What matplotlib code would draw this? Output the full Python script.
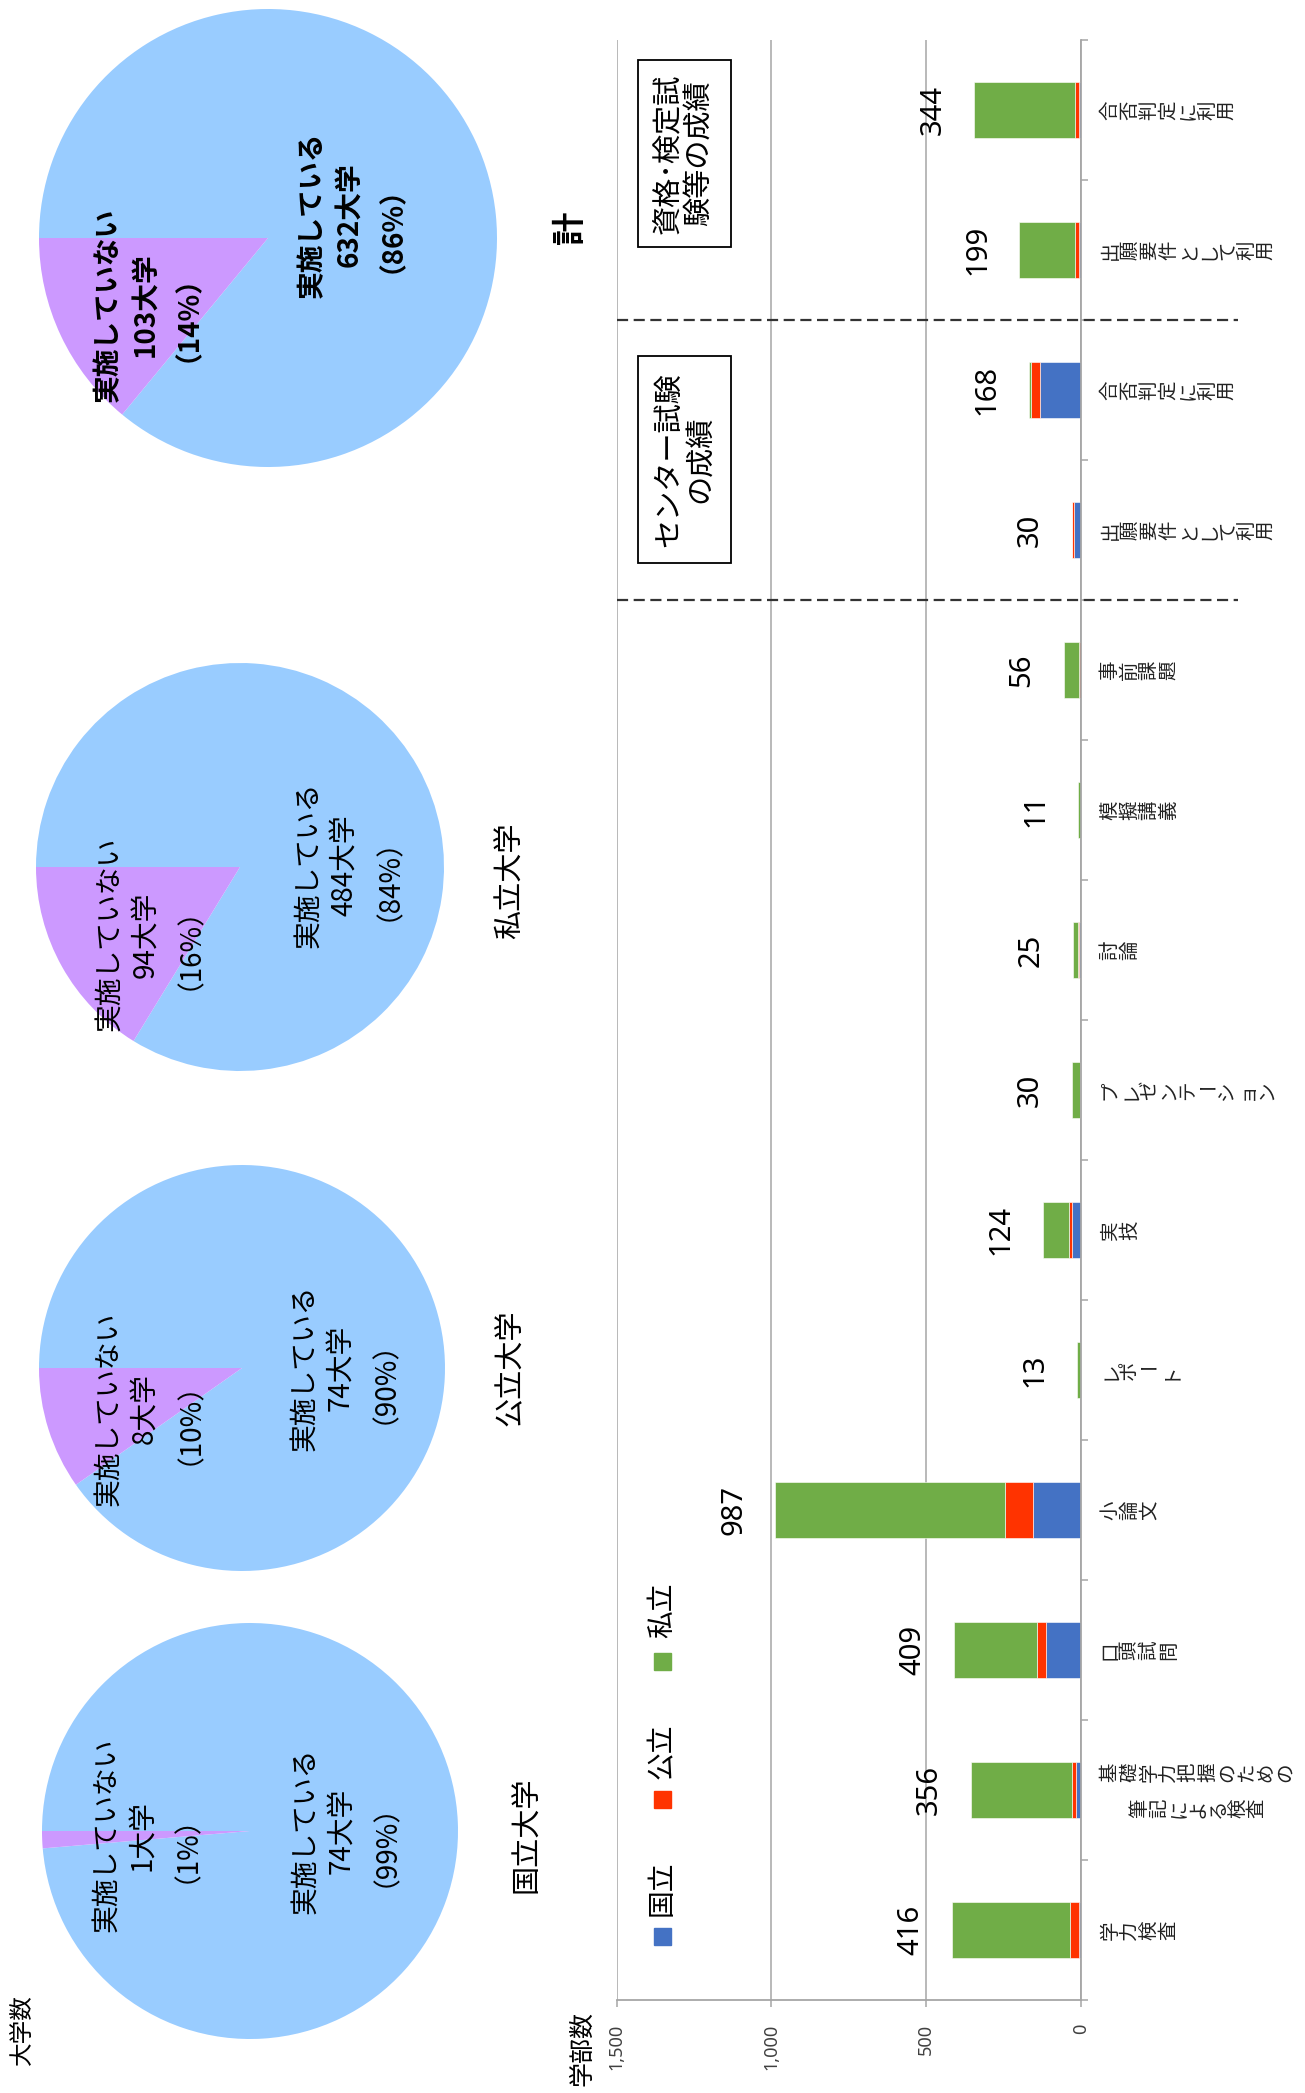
import matplotlib
matplotlib.use("Agg")
import matplotlib.pyplot as plt
from matplotlib.patches import Rectangle
from matplotlib.transforms import blended_transform_factory

plt.rcParams['font.family'] = ['Noto Sans CJK JP', 'DejaVu Sans']

# ---- data ----
categories = ['学力検査', '基礎学力把握のための\n筆記による検査', '口頭試問', '小論文',
              'レポート', '実技', 'プレゼンテーション', '討論', '模擬講義', '事前課題',
              '出願要件として利用', '合否判定に利用', '出願要件として利用', '合否判定に利用']
kokuritsu = [8, 15, 113, 155, 0, 30, 1, 5, 0, 0, 22, 132, 7, 7]
kouritsu = [28, 14, 28, 89, 1, 8, 3, 4, 0, 5, 8, 28, 13, 13]
shiritsu = [380, 327, 268, 743, 12, 86, 26, 16, 11, 51, 0, 8, 179, 324]
series_names = ['国立', '公立', '私立']
series_colors = ['#4472C4', '#FF3300', '#70AD47']
value_ticks = [0, 500, 1000, 1500]

pie_titles = ['国立大学', '公立大学', '私立大学', '計']
implemented = [74, 74, 484, 632]
not_implemented = [1, 8, 94, 103]
implemented_pct = [99, 90, 84, 86]
not_implemented_pct = [1, 10, 16, 14]

W, H = 1305, 2093
fig = plt.figure(figsize=(W / 100, H / 100), dpi=100)

# ---- bar chart (drawn rotated: value axis runs right-to-left) ----
x_left, x_right, y_top, y_bot = 616.5, 1081, 40, 2000
ax = fig.add_axes([x_left / W, 1 - y_bot / H, (x_right - x_left) / W, (y_bot - y_top) / H])
n = len(categories)
ypos = list(range(n))
left = [0] * n
for vals, name, col in zip([kokuritsu, kouritsu, shiritsu], series_names, series_colors):
    ax.barh(ypos, vals, left=left, height=0.4, color=col, edgecolor='white', linewidth=0.4, label=name)
    left = [a + b for a, b in zip(left, vals)]
totals = left
for i, t in enumerate(totals):
    ax.annotate(str(t), xy=(t, i), xytext=(-30, 0), textcoords='offset points',
                rotation=90, ha='center', va='center', fontsize=21, family=['Noto Sans', 'DejaVu Sans'])

ax.set_xlim(1500, 0)
ax.set_ylim(-0.5, n - 0.5)
ax.set_xticks(value_ticks)
ax.set_xticklabels([f'{v:,}' for v in value_ticks], rotation=90, fontsize=13,
                   family=['Noto Sans', 'DejaVu Sans'], color='#404040')
ax.grid(axis='x', color='#A6A6A6', linewidth=1.1)
ax.set_axisbelow(True)
ax.set_yticks([])
ax.set_yticks([i - 0.5 for i in range(n + 1)], minor=True)
ax.yaxis.set_ticks_position('right')
ax.tick_params(axis='y', which='minor', length=5, width=1.1, color='#A6A6A6', direction='out')
ax.tick_params(axis='x', length=5, width=1.1, color='#A6A6A6', pad=12)
for s in ['top', 'left']:
    ax.spines[s].set_visible(False)
for s in ['right', 'bottom']:
    ax.spines[s].set_color('#A6A6A6')
    ax.spines[s].set_linewidth(1.3)

# ---- overlay in pixel coords ----
ov = fig.add_axes([0, 0, 1, 1])
ov.set_xlim(0, W)
ov.set_ylim(H, 0)
ov.axis('off')
ov.set_zorder(5)
bt = blended_transform_factory(ov.transData, ax.transData)

# category labels as vertical (tategaki) text
for i, lab in enumerate(categories):
    cols = lab.split('\n')
    offs = [0.0] if len(cols) == 1 else [0.13, -0.13]
    first_len = len(cols[0])
    for c, (col, dy) in enumerate(zip(cols, offs)):
        start = 1100 + (first_len - len(col)) * 10 if c > 0 else 1100
        for k, ch in enumerate(col):
            ov.text(start + 10 + 19.5 * k, i + dy, ch, transform=bt, rotation=0 if ch == 'ー' else 90,
                    ha='center', va='center', fontsize=14, color='#222222')

# dashed separators
for yb in [9.5, 11.5]:
    ov.plot([616.5, 1238], [yb, yb], transform=bt, color='#333333', lw=1.6,
            linestyle=(0, (5, 2.5)), clip_on=False)

# boxes
for (bx, by, bw, bh), txt in [((638, 356, 93, 207), 'センター試験\nの成績'),
                              ((638, 60, 93, 187), '資格･検定試\n験等の成績')]:
    ov.add_patch(Rectangle((bx, by), bw, bh, fill=False, edgecolor='black', lw=1.3))
    ov.text(bx + bw / 2, by + bh / 2, txt, rotation=90, ha='center', va='center',
            multialignment='center', fontsize=21, linespacing=1.05)

# legend
for (sy, ty), name, col in zip([(1928, 1888), (1791, 1751), (1653, 1610)], series_names, series_colors):
    ov.add_patch(Rectangle((654, sy), 17, 17, color=col))
    ov.text(662, ty, name, rotation=90, ha='center', va='center', fontsize=20)

ov.text(582, 2048, '学部数', rotation=90, ha='center', va='center', fontsize=18)
ov.text(22, 2030, '大学数', rotation=90, ha='center', va='center', fontsize=17)


def stacked_label(axp, x, y, lines, r, weight):
    # rotated 3-line label placed by baseline (pixel offsets of each line)
    offsets = [-37, 0, 29]
    for line, off in zip(lines, offsets):
        axp.text(x + (off + 11) / r, y, line, rotation=90, rotation_mode='anchor',
                 ha='center', va='baseline', fontsize=20, fontweight=weight)


# ---- pies ----
pie_geom = [(250, 1831, 208), (242, 1368, 203), (240, 867, 204), (268, 238, 229)]
impl_pos = [(0.43, 0.0), (0.475, 0.0), (0.50, 0.01), (0.34, 0.10)]
not_pos = [(-0.53, -0.02), (-0.49, -0.20), (-0.475, -0.33), (-0.55, -0.29)]
title_pos = [(527, 1835), (511, 1368), (511, 881), (571, 227)]
for k in range(4):
    cx, cy, r = pie_geom[k]
    pa = fig.add_axes([(cx - r) / W, 1 - (cy + r) / H, 2 * r / W, 2 * r / H])
    pa.pie([implemented[k], not_implemented[k]], colors=['#99CCFF', '#CC99FF'],
           startangle=180, counterclock=False, wedgeprops=dict(linewidth=0))
    pa.set_xlim(-1, 1)
    pa.set_ylim(-1, 1)
    bold = 'bold' if k == 3 else 'normal'
    stacked_label(pa, *impl_pos[k], ['実施している', f'{implemented[k]}大学',
                                     f'（{implemented_pct[k]}%）'], r, bold)
    stacked_label(pa, *not_pos[k], ['実施していない', f'{not_implemented[k]}大学',
                                    f'（{not_implemented_pct[k]}%）'], r, bold)
    ov.text(*title_pos[k], pie_titles[k], rotation=90, ha='center', va='center',
            fontsize=24 if k == 3 else 21, fontweight=bold)

fig.savefig('out.png', dpi=100)
